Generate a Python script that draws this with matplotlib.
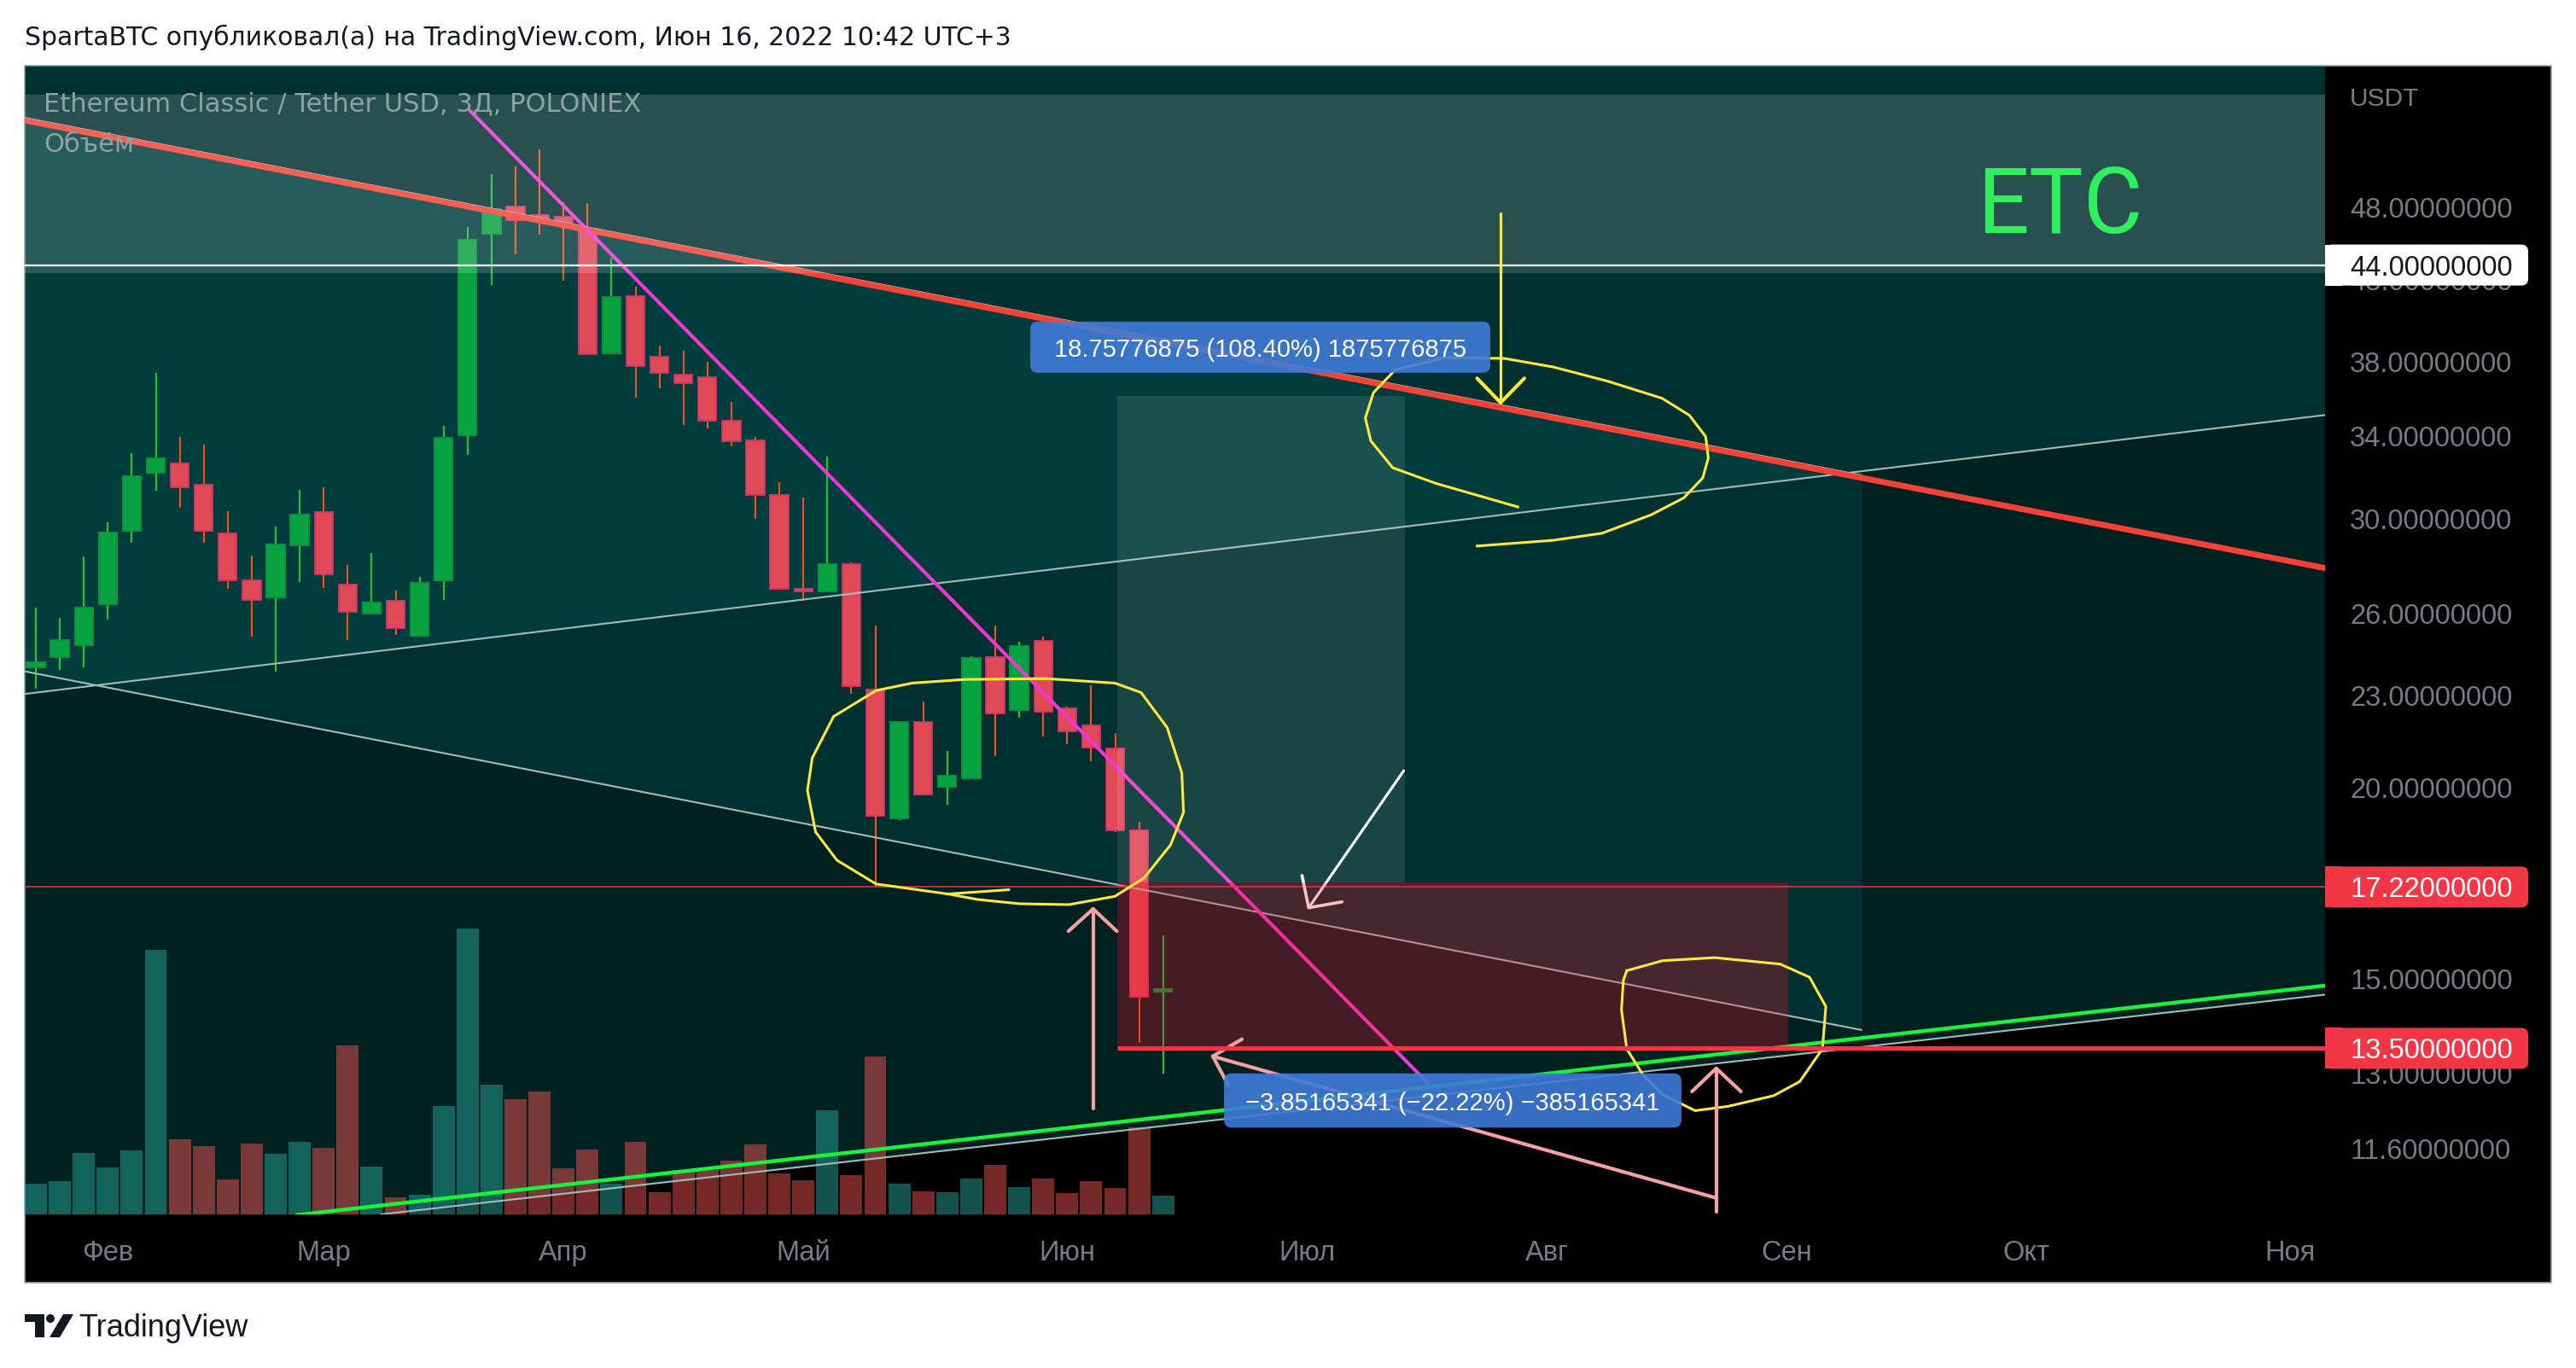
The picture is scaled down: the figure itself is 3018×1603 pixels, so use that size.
import numpy as np
import matplotlib
matplotlib.use("Agg")
import matplotlib.pyplot as plt
from matplotlib.patches import FancyBboxPatch, Rectangle, Polygon, Circle
from matplotlib.transforms import IdentityTransform, blended_transform_factory
import matplotlib.ticker as mticker

plt.rcParams['font.family'] = ['Liberation Sans', 'DejaVu Sans']

# ------------------------------------------------------------------ data
# 3-day candles ETC/USDT (bar index 0..47)
OPEN = [23.98, 24.36, 24.80, 26.39, 29.45, 32.17, 32.63, 31.59, 29.36, 27.35,
        26.65, 28.83, 30.32, 27.18, 26.01, 26.50, 25.16, 27.35, 34.04, 46.12,
        48.06, 47.45, 47.33, 46.48, 38.52, 42.00, 38.32, 37.31, 37.16, 34.80,
        33.78, 31.11, 27.00, 26.90, 28.03, 23.20, 19.10, 22.10, 20.03, 20.29,
        24.36, 22.49, 24.96, 22.55, 21.97, 21.23, 18.76, 14.70]
HIGH = [26.25, 25.84, 28.36, 29.85, 33.13, 37.40, 33.96, 33.56, 30.36, 28.39,
        29.67, 31.35, 31.47, 28.00, 28.50, 26.93, 27.50, 34.53, 46.60, 50.47,
        51.06, 52.39, 48.37, 48.30, 44.49, 42.59, 38.97, 38.66, 38.00, 35.80,
        33.96, 31.72, 30.99, 32.97, 28.10, 25.55, 22.12, 22.79, 21.14, 24.38,
        25.55, 24.93, 25.12, 22.60, 23.35, 21.72, 19.00, 16.01]
LOW = [23.23, 23.89, 23.98, 25.78, 28.95, 31.31, 30.51, 28.95, 27.00, 25.12,
       23.83, 27.28, 27.03, 24.99, 25.97, 25.20, 25.12, 26.55, 33.05, 42.70,
       44.72, 46.06, 42.97, 38.40, 38.45, 36.02, 36.54, 34.57, 34.38, 33.49,
       30.00, 26.95, 26.50, 26.85, 23.05, 17.22, 19.05, 19.78, 19.50, 20.25,
       20.98, 22.22, 21.61, 21.37, 20.82, 18.70, 13.62, 13.00]
CLOSE = [24.17, 24.99, 26.25, 29.40, 32.00, 32.88, 31.47, 29.47, 27.35, 26.55,
         28.87, 30.20, 27.60, 26.08, 26.45, 25.45, 27.24, 33.91, 45.71, 47.88,
         47.08, 47.20, 46.85, 38.47, 41.93, 37.78, 37.40, 36.82, 34.80, 33.73,
         31.11, 27.00, 26.90, 28.03, 23.32, 19.17, 22.09, 19.80, 20.37, 24.33,
         22.38, 24.77, 22.43, 21.78, 21.25, 18.76, 14.60, 14.76]
# volume (arbitrary units, relative heights)
VOLUME = [36, 39, 72, 55, 75, 310, 88, 80, 41, 83,
          71, 85, 78, 198, 56, 20, 23, 127, 335, 152,
          135, 144, 54, 76, 36, 85, 26, 52, 52, 63,
          82, 48, 40, 122, 46, 185, 36, 27, 26, 42,
          58, 32, 42, 25, 39, 31, 102, 22]
VOL_TOP = 1346

MONTH_POS = [3, 12, 22, 32, 43, 53, 63, 73, 83, 94]
MONTH_LABELS = ['Фев', 'Мар', 'Апр', 'Май', 'Июн', 'Июл', 'Авг', 'Сен', 'Окт', 'Ноя']
PRICE_TICKS = [48, 43, 38, 34, 30, 26, 23, 20, 15, 13, 11.6]
XLIM = (-0.463, 95.445)
YLIM = (10.51, 59.43)

LEVEL_WHITE = 44.0
LEVEL_LOW = 17.22
LEVEL_STOP = 13.5
BAND = (43.47, 56.9)

# drawings: (bar index, price)
RED_LINE = [(-0.463, 54.73), (95.44, 27.86)]
RED_EDGE = [(-0.463, 54.95), (76.12, 32.05)]
DESC_LINE = [(-0.463, 23.84), (76.12, 13.88)]
RISE_LINE = [(-0.463, 23.04), (95.44, 35.09)]
GREY_LINE = [(14.38, 10.51), (95.46, 14.64)]
GREEN_LINE = [(10.88, 10.50), (95.44, 14.84)]
MAGENTA_LINE = [(18.11, 55.51), (58.06, 12.80)]
CHANNEL_B_END = 76.12

POS_START = 45.09
TARGET_END = 57.08
STOP_END = 73.06
ENTRY, TARGET, STOP = 17.35, 36.11, 13.50
TARGET_TEXT = '18.75776875 (108.40%) 1875776875'
STOP_TEXT = '\u22123.85165341 (\u221222.22%) \u2212385165341'
TARGET_BOX = (41.46, 60.64, 37.40, 40.40)
STOP_BOX = (49.54, 68.61, 11.98, 13.00)

LOOP1_X = [40.56, 38.03, 35.03, 33.40, 32.51, 32.17, 32.37, 33.26, 35.03, 36.53, 38.72, 42.12,
           44.99, 46.08, 47.17, 47.78, 47.85, 47.31, 46.21, 44.99, 43.08, 41.03, 39.26, 38.03]
LOOP1_P = [17.15, 17.04, 17.30, 17.93, 18.71, 19.92, 20.92, 22.27, 23.16, 23.42, 23.55, 23.58,
           23.42, 23.09, 21.90, 20.45, 19.27, 18.35, 17.46, 16.98, 16.77, 16.79, 16.90, 17.04]
LOOP2_X = [61.79, 58.38, 56.57, 55.66, 55.43, 55.77, 56.68, 58.72, 61.22, 63.26, 65.53, 67.80,
           68.94, 69.62, 69.73, 69.50, 68.71, 67.35, 65.30, 63.26, 60.09]
LOOP2_P = [30.55, 31.65, 32.41, 33.75, 34.93, 36.30, 37.57, 38.26, 38.22, 37.73, 36.93, 35.99,
           35.08, 33.97, 32.89, 31.92, 30.97, 30.19, 29.36, 29.05, 28.80]
LOOP3_X = [66.33, 67.83, 70.00, 72.73, 73.95, 74.63, 74.49, 73.54, 72.45, 70.55, 69.18, 67.83,
           67.01, 66.33, 66.11, 66.19, 66.33]
LOOP3_P = [15.18, 15.41, 15.48, 15.33, 15.03, 14.38, 13.49, 12.84, 12.57, 12.37, 12.29, 12.59,
           12.97, 13.49, 14.31, 14.96, 15.18]
YELLOW_SHAFT = [(61.07, 47.57), (61.07, 35.75)]
YELLOW_HEAD = [(60.09, 37.09), (61.07, 35.75), (62.06, 37.09)]
WHITE_SHAFT = [(57.03, 20.52), (53.07, 16.69)]
WHITE_HEAD = [(52.79, 17.52), (53.07, 16.69), (54.46, 16.84)]
PINK_A_SHAFT = [(44.08, 12.33), (44.08, 16.66)]
PINK_A_HEAD = [(43.05, 16.11), (44.08, 16.66), (45.07, 16.11)]
PINK_B_DIAG = [(49.07, 13.34), (70.00, 10.78)]
PINK_B_HEAD1 = [(50.29, 13.69), (49.07, 13.34), (49.71, 12.78)]
PINK_B_SHAFT = [(70.06, 10.55), (70.06, 13.10)]
PINK_B_HEAD2 = [(69.05, 12.65), (70.06, 13.10), (71.09, 12.65)]

# ------------------------------------------------------------------ layout
W, H, DPI = 3018, 1603, 100
PANE_L, PANE_R, PANE_T, PANE_B = 29, 2724, 77, 1423
FRAME_R, FRAME_B = 2989, 1503

fig = plt.figure(figsize=(W / DPI, H / DPI), dpi=DPI, facecolor='white')


def fx(px):
    return px / W


def fy(py):
    return 1 - py / H


fig.add_artist(Rectangle((fx(PANE_L), fy(FRAME_B)), fx(FRAME_R) - fx(PANE_L),
                         fy(PANE_T) - fy(FRAME_B), transform=fig.transFigure,
                         facecolor='black', edgecolor='#a0a3ab', lw=1.2, zorder=-5))

pos = [fx(PANE_L), fy(PANE_B), fx(PANE_R) - fx(PANE_L), fy(PANE_T) - fy(PANE_B)]
ax_bg = fig.add_axes(pos, zorder=0)
ax_v = fig.add_axes(pos, zorder=1)
ax = fig.add_axes(pos, zorder=2)
for a in (ax_bg, ax):
    a.set_yscale('log')
    a.set_xlim(XLIM)
    a.set_ylim(YLIM)
ax_v.set_xlim(XLIM)
ax_v.set_ylim(0, VOL_TOP)
ax_bg.set_facecolor('black')
ax_v.set_facecolor('none')
ax.set_facecolor('none')
ax_bg.axis('off')
ax_v.axis('off')
ax_bg.patch.set_visible(True)
for s in ax.spines.values():
    s.set_visible(False)


def logline(line, xs):
    (x1, y1), (x2, y2) = line
    xs = np.asarray(xs, float)
    return np.exp(np.log(y1) + (np.log(y2) - np.log(y1)) * (xs - x1) / (x2 - x1))


# ---- background channel fills
TEAL = (4 / 255, 128 / 255, 128 / 255)
xs_full = np.array(XLIM)
ax_bg.fill_between(xs_full, logline(GREY_LINE, xs_full), 500, color=TEAL, alpha=0.25, lw=0)
ax_bg.fill_between(xs_full, logline(RISE_LINE, xs_full), 500, color=TEAL, alpha=0.167, lw=0)
xs_b = np.array([XLIM[0], CHANNEL_B_END])
ax_bg.fill_between(xs_b, logline(DESC_LINE, xs_b), logline(RED_LINE, xs_b), color=TEAL, alpha=0.167, lw=0)

# ---- volume
idx = np.arange(len(OPEN))
o, hi, lo, c = map(np.array, (OPEN, HIGH, LOW, CLOSE))
up = c >= o
vol = np.array(VOLUME)
ax_v.bar(idx[up], vol[up], width=0.92, color=(38 / 255, 166 / 255, 154 / 255, 0.5), lw=0)
ax_v.bar(idx[~up], vol[~up], width=0.92, color=(239 / 255, 83 / 255, 80 / 255, 0.5), lw=0)

# ---- candles
b_lo = np.minimum(o, c)
b_hi = np.maximum(np.maximum(o, c), b_lo * 1.003)
ax.vlines(idx[up], lo[up], hi[up], color='#1fc43a', lw=1.5, zorder=3)
ax.vlines(idx[~up], lo[~up], hi[~up], color='#f4511e', lw=1.5, zorder=3)
ax.bar(idx[up], (b_hi - b_lo)[up], bottom=b_lo[up], width=0.76, color='#08a240',
       edgecolor='#0b9440', lw=1.3, zorder=4)
ax.bar(idx[~up], (b_hi - b_lo)[~up], bottom=b_lo[~up], width=0.76, color='#e04a56',
       edgecolor='#d6336a', lw=1.3, zorder=4)


def pl(pts, **kw):
    xs, ys = zip(*pts)
    ax.plot(xs, ys, solid_capstyle='round', solid_joinstyle='round', **kw)


# ---- lines
THIN = '#a3bcb9'
pl(RISE_LINE, color=THIN, lw=1.5, zorder=5)
pl(DESC_LINE, color=THIN, lw=1.5, zorder=5)
pl(GREY_LINE, color=THIN, lw=1.5, zorder=5)
pl(RED_EDGE, color='#c9d6d4', lw=1.2, zorder=5)
pl(RED_LINE, color='#f44336', lw=5.0, zorder=5.5)
pl(GREEN_LINE, color='#17f53a', lw=3.2, zorder=5.5)
pl(MAGENTA_LINE, color='#f036d4', lw=3.0, zorder=5.5)
ax.axhline(LEVEL_WHITE, color='white', lw=1.6, zorder=6)
ax.axhline(LEVEL_LOW, color='#f23645', lw=1.1, zorder=6)

# white arrow (below the stop zone)
pl(WHITE_SHAFT, color='white', lw=2.3, zorder=6.2)
pl(WHITE_HEAD, color='white', lw=2.6, zorder=6.2)

# ---- rectangles (drawn above candles)
ax.fill_between(xs_full, BAND[0], BAND[1], color='white', alpha=0.155, lw=0, zorder=7)
ax.add_patch(Rectangle((POS_START, ENTRY), TARGET_END - POS_START, TARGET - ENTRY,
                       facecolor='white', alpha=0.10, lw=0, zorder=7))
ax.add_patch(Rectangle((POS_START, STOP), STOP_END - POS_START, ENTRY - STOP,
                       facecolor=(1.0, 20 / 255, 45 / 255), alpha=0.27, lw=0, zorder=7))
ax.hlines(LEVEL_STOP, POS_START, XLIM[1], color='#f23645', lw=3.6, zorder=8.5)

# ---- hand drawings
YEL = '#ffe93a'
ax.plot(LOOP1_X, LOOP1_P, color=YEL, lw=2.2, zorder=8, solid_joinstyle='round')
ax.plot(LOOP2_X, LOOP2_P, color=YEL, lw=2.2, zorder=8, solid_joinstyle='round')
ax.plot(LOOP3_X, LOOP3_P, color=YEL, lw=2.2, zorder=8, solid_joinstyle='round')
pl(YELLOW_SHAFT, color=YEL, lw=2.3, zorder=8)
pl(YELLOW_HEAD, color=YEL, lw=3.0, zorder=8)
PINK = '#f6a2a2'
for seg in (PINK_A_SHAFT, PINK_A_HEAD, PINK_B_DIAG, PINK_B_HEAD1, PINK_B_SHAFT, PINK_B_HEAD2):
    pl(seg, color=PINK, lw=3.0, zorder=8)

# ---- position labels (pixel-rounded boxes)
ident = IdentityTransform()


def label_box(box, text):
    x0, x1, p0, p1 = box
    (dx0, dy0) = ax.transData.transform((x0, p0))
    (dx1, dy1) = ax.transData.transform((x1, p1))
    ax.add_patch(FancyBboxPatch((dx0, dy0), dx1 - dx0, dy1 - dy0,
                                boxstyle='round,pad=0,rounding_size=9', transform=ident,
                                facecolor='#3f7bd8', alpha=0.9, lw=0, zorder=9))
    xm = (x0 + x1) / 2
    pm = np.sqrt(p0 * p1)
    ax.text(xm, pm, text, ha='center', va='center_baseline', color='white',
            fontsize=21, zorder=10)


label_box(TARGET_BOX, TARGET_TEXT)
label_box(STOP_BOX, STOP_TEXT)

# ---- ETC big text and legend
ax.text(0.8486, 0.8544, 'ETC', transform=ax.transAxes, ha='left', va='baseline',
        color='#2ff05c', fontsize=77, family=['Roboto', 'Liberation Sans'], zorder=10)
fig.text(fx(51), fy(130), 'Ethereum Classic / Tether USD, 3Д, POLONIEX', ha='left',
         va='baseline', fontsize=22, color='#8ea3a3', family=['DejaVu Sans'], zorder=5)
fig.text(fx(51), fy(178), 'Объём', ha='left', va='baseline', fontsize=22,
         color='#8ea3a3', family=['DejaVu Sans'], zorder=5)

# ---- axes ticks
ax.set_yticks(PRICE_TICKS, labels=[f'{t:.8f}' for t in PRICE_TICKS])
ax.yaxis.set_minor_locator(mticker.NullLocator())
ax.yaxis.set_minor_formatter(mticker.NullFormatter())
ax.yaxis.tick_right()
ax.tick_params(axis='y', length=0, pad=20.9, labelsize=23.5, labelcolor='#787b86')
ax.set_xticks(MONTH_POS, labels=MONTH_LABELS)
ax.xaxis.set_minor_locator(mticker.NullLocator())
ax.tick_params(axis='x', length=0, pad=21.5, labelsize=23.5, labelcolor='#787b86')

# price-axis markers
ybl = blended_transform_factory(ident, ax.transData)
for price, fc, tc in ((LEVEL_WHITE, 'white', '#131722'),
                      (LEVEL_LOW, '#f23645', 'white'),
                      (LEVEL_STOP, '#f23645', 'white')):
    yd = ax.transData.transform((0, price))[1]
    ax.add_patch(FancyBboxPatch((PANE_R, yd - 24), 238, 48, boxstyle='round,pad=0,rounding_size=8',
                                transform=ident, facecolor=fc, lw=0, zorder=10, clip_on=False))
    ax.add_patch(Rectangle((PANE_R, yd - 24), 20, 48, transform=ident, facecolor=fc, lw=0,
                           zorder=10, clip_on=False))
    ax.text(2753, price, f'{price:.8f}', transform=ybl, ha='left', va='center_baseline',
            fontsize=23.5, color=tc, zorder=11, clip_on=False)

fig.text(fx(2753), fy(113), 'USDT', ha='left', va='center_baseline', fontsize=21.5,
         color='#787b86', zorder=5)

# ---- header / footer
fig.text(fx(29), fy(53), 'SpartaBTC опубликовал(а) на TradingView.com, Июн 16, 2022 10:42 UTC+3',
         ha='left', va='baseline', fontsize=21.5, color='#131722', family=['DejaVu Sans'])
fig.text(fx(92), fy(1566), 'TradingView', ha='left', va='baseline', fontsize=26, color='#131722')
# logo
fig.add_artist(Rectangle((29, H - 1549), 23, 9, transform=ident, facecolor='#131722', lw=0))
fig.add_artist(Rectangle((41, H - 1567), 11, 27, transform=ident, facecolor='#131722', lw=0))
fig.add_artist(Circle((59, H - 1545), 5, transform=ident, facecolor='#131722', lw=0))
fig.add_artist(Polygon([(58, H - 1567), (70, H - 1567), (86, H - 1540), (74, H - 1540)],
                       closed=True, transform=ident, facecolor='#131722', lw=0))

fig.savefig('out.png', dpi=DPI, facecolor='white')
